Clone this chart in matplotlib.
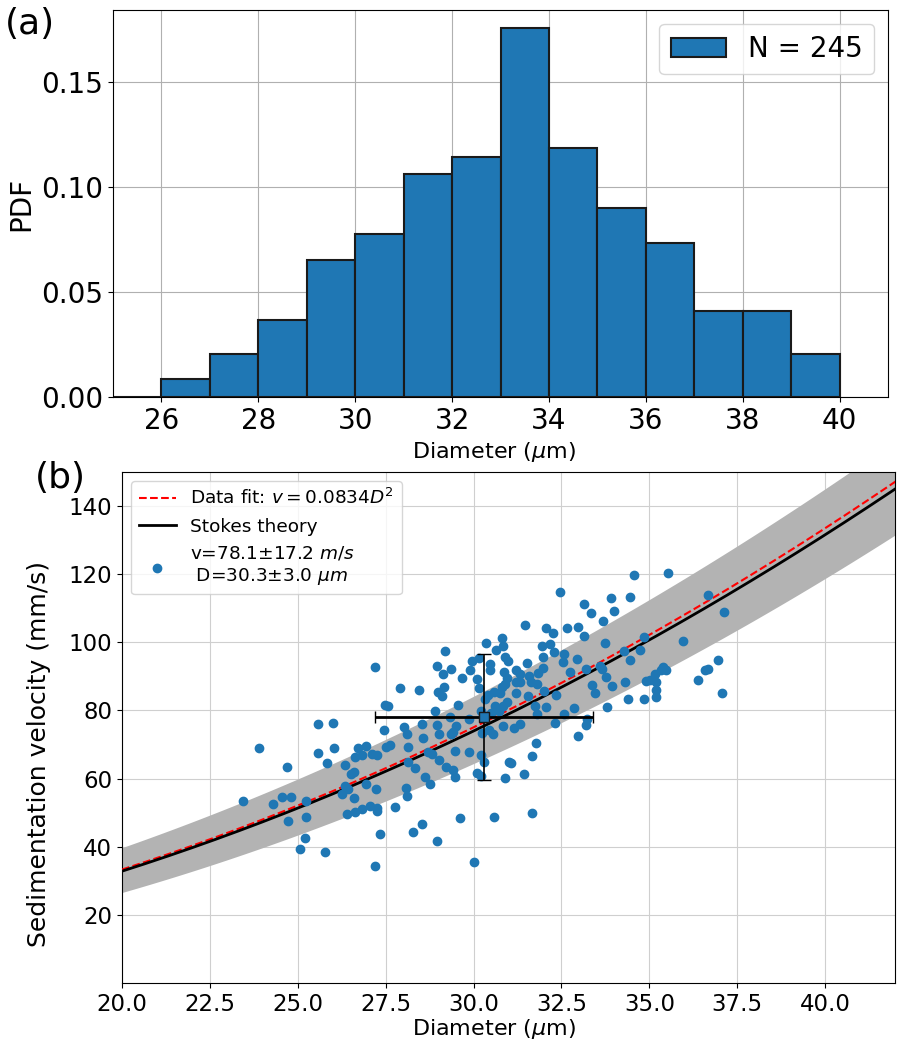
import numpy as np
import matplotlib.pyplot as plt
from matplotlib.patches import Patch

# (a) histogram, bin edges 25..40, width 1
bin_left = [25, 26, 27, 28, 29, 30, 31, 32, 33, 34, 35, 36, 37, 38, 39]
pdf = [0.0, 0.0085, 0.0205, 0.0367, 0.0653, 0.0776, 0.1061, 0.1143, 0.1755,
       0.1184, 0.0898, 0.0735, 0.0408, 0.0408, 0.0204]
n_total = 245

# (b) scatter of diameter (um) vs sedimentation velocity (mm/s)
diam = [35.52, 36.68, 37.13, 35.96, 36.96, 36.59, 36.67, 36.37, 37.07, 35.38,
        35.33, 35.47, 35.17, 35.02, 34.9, 35.19, 35.2, 35.2, 34.86, 34.86,
        34.57, 32.47, 33.91, 34.46, 33.15, 33.34, 33.98, 33.67, 32.66, 32.96,
        33.13, 33.75, 32.56, 32.54, 32.95, 34.27, 34.44, 34.74, 32.75, 33.2,
        33.6, 33.65, 33.77, 33.36, 33.44, 33.94, 34.32, 34.38, 33.8, 32.87,
        32.57, 33.23, 33.2, 32.98,
        31.45, 32.05, 32.27, 32.18, 31.96, 32.3, 30.35, 30.82, 30.83, 30.63,
        30.14, 30.9, 30.98, 30.48, 30.48, 31.51, 31.97, 31.21, 31.33, 30.86,
        31.97, 31.83, 31.57, 30.96, 30.09, 31.21, 31.31, 31.64, 31.81, 30.88,
        30.8, 30.14, 31.21, 32.0, 32.33, 31.54, 30.41, 30.58, 30.74, 30.33,
        30.6, 30.96, 30.83, 30.5, 30.71, 30.22, 31.75, 32.07, 31.81, 32.31,
        31.33, 31.16, 30.83, 30.45, 30.55, 30.24, 31.78, 30.22, 31.66, 30.29,
        31.0, 31.07, 30.1, 30.2, 31.43, 30.88, 30.57, 31.66,
        29.18, 29.96, 28.96, 29.37, 29.13, 29.91, 29.67, 27.9, 28.45, 29.16,
        28.99, 29.11, 29.55, 28.89, 29.33, 29.86, 28.02, 28.12, 28.53, 28.96,
        29.02, 29.51, 29.41, 29.35, 28.56, 28.13, 28.7, 28.82, 29.46, 29.86,
        29.02, 29.41, 29.46, 29.22, 28.13, 28.32, 28.61, 28.77, 28.09, 28.12,
        27.76, 29.6, 28.54, 28.28, 28.96, 30.02,
        27.2, 27.48, 27.57, 25.58, 26.0, 27.44, 23.89, 25.58, 26.03, 26.71,
        26.93, 26.64, 26.84, 27.12, 27.26, 27.52, 27.61, 25.84, 26.34, 24.69,
        26.52, 26.61, 26.34, 26.43, 26.26, 26.95, 27.22, 26.6, 26.84, 27.05,
        27.25, 27.26, 26.62, 26.4, 23.45, 24.3, 24.55, 24.81, 25.24, 24.72,
        25.22, 25.21, 25.05, 25.78, 27.35, 27.2]
vel = [120.2, 113.9, 108.8, 100.5, 94.7, 91.9, 92.2, 88.8, 85.2, 92.8,
       92.0, 92.0, 90.8, 89.0, 88.5, 88.4, 86.1, 83.9, 83.4, 101.5,
       119.8, 114.8, 112.9, 113.2, 111.2, 108.6, 109.2, 106.1, 104.1, 104.4,
       101.9, 99.9, 96.6, 94.3, 95.2, 97.4, 94.9, 97.6, 91.2, 92.2,
       93.1, 92.2, 89.9, 87.5, 85.1, 87.2, 88.4, 83.4, 81.0, 80.7,
       79.1, 77.5, 75.8, 72.5,
       105.1, 104.2, 102.6, 99.4, 98.8, 97.2, 99.9, 101.2, 98.9, 97.6,
       95.5, 95.7, 94.6, 93.6, 91.8, 94.0, 95.7, 92.0, 90.6, 91.2,
       92.4, 91.0, 90.0, 89.5, 89.3, 88.2, 88.2, 88.4, 87.9, 87.9,
       86.9, 86.5, 85.1, 85.6, 84.6, 84.1, 84.6, 85.3, 85.1, 83.4,
       81.4, 82.4, 81.2, 79.2, 79.9, 79.7, 81.2, 81.0, 79.0, 76.3,
       76.0, 74.8, 75.5, 74.3, 73.1, 73.5, 70.6, 67.0, 66.7, 65.0,
       65.0, 64.7, 61.6, 60.8, 61.5, 60.1, 48.8, 50.0,
       97.4, 94.4, 93.1, 92.2, 90.8, 92.0, 89.5, 86.6, 86.1, 86.8,
       85.3, 84.3, 81.7, 79.9, 78.2, 77.6, 75.1, 73.1, 76.0, 75.8,
       73.1, 75.3, 73.8, 73.1, 71.9, 69.4, 67.9, 67.2, 68.2, 67.9,
       65.5, 62.6, 60.6, 63.4, 65.0, 63.1, 60.4, 58.4, 57.2, 54.9,
       51.8, 48.6, 46.7, 44.4, 41.7, 35.6,
       92.6, 81.5, 81.3, 76.1, 76.3, 74.3, 68.9, 67.5, 69.1, 68.9,
       69.7, 66.5, 66.8, 67.2, 66.8, 69.4, 69.9, 64.5, 64.0, 63.5,
       61.4, 61.9, 57.9, 57.0, 55.4, 58.4, 57.0, 54.4, 51.1, 52.1,
       51.5, 50.6, 50.3, 49.5, 53.5, 52.5, 54.5, 54.7, 53.5, 47.6,
       48.8, 42.5, 39.5, 38.5, 43.8, 34.5]

# mean / spread marker
d_mean, d_err = 30.3, 3.1
v_mean, v_err = 78.1, 18.6

k_fit = 0.0834      # data fit v = k D^2
k_stokes = 0.0822   # Stokes theory
d_spread = 2.0      # shaded band: Stokes with D +/- d_spread

fig = plt.figure(figsize=(9.05, 10.48), dpi=100)

# ---- (a) ----
ax1 = fig.add_axes([0.1249, 0.6212, 0.8564, 0.3693])
ax1.set_axisbelow(True)
ax1.grid(True, color='#b0b0b0', lw=0.8)
ax1.bar(bin_left, pdf, width=1.0, align='edge', color='#1f77b4',
        edgecolor='#1a1a1a', linewidth=1.5)
ax1.set_xlim(25, 41)
ax1.set_xticks([26, 28, 30, 32, 34, 36, 38, 40])
ax1.set_yticks([0.0, 0.05, 0.10, 0.15])
ax1.tick_params(labelsize=20)
ax1.set_xlabel(r'Diameter ($\mu$m)', fontsize=16)
ax1.xaxis.set_label_coords(0.492, -0.11)
ax1.set_ylabel('PDF', fontsize=20)
ax1.legend(handles=[Patch(facecolor='#1f77b4', edgecolor='#1a1a1a', lw=1.5,
                          label='N = %d' % n_total)],
           loc='upper right', fontsize=20)
fig.text(0.005, 0.993, '(a)', fontsize=26, va='top', ha='left')

# ---- (b) ----
ax2 = fig.add_axes([0.1348, 0.0617, 0.8547, 0.4882])
ax2.set_axisbelow(True)
ax2.grid(True, color='#cfcfcf', lw=0.8)

dd = np.linspace(20, 42, 300)
ax2.fill_between(dd, k_stokes * (dd - d_spread) ** 2,
                 k_stokes * (dd + d_spread) ** 2, color='#b3b3b3', lw=0)
ax2.plot(dd, k_fit * dd ** 2, 'r--', lw=1.5,
         label=r'Data fit: $v=%.4fD^2$' % k_fit, zorder=3)
ax2.plot(dd, k_stokes * dd ** 2, 'k-', lw=2, label='Stokes theory', zorder=3)
ax2.scatter(diam, vel, s=36, color='#1f77b4', zorder=4,
            label='v=78.1±17.2 $m/s$\n D=30.3±3.0 $\\mu m$')
ax2.errorbar(d_mean, v_mean, xerr=d_err, fmt='none', ecolor='k',
             elinewidth=2, capsize=4, zorder=5)
ax2.errorbar(d_mean, v_mean, yerr=v_err, fmt='s', color='#1f77b4', mec='#1a1a1a',
             ms=7, ecolor='k', elinewidth=1.2, capsize=5, zorder=5)

ax2.set_xlim(20, 42)
ax2.set_ylim(0, 150)
ax2.set_xticks([20.0, 22.5, 25.0, 27.5, 30.0, 32.5, 35.0, 37.5, 40.0])
ax2.set_yticks([20, 40, 60, 80, 100, 120, 140])
ax2.tick_params(labelsize=16.5)
ax2.set_xlabel(r'Diameter ($\mu$m)', fontsize=16)
ax2.xaxis.set_label_coords(0.481, -0.065)
ax2.set_ylabel('Sedimentation velocity (mm/s)', fontsize=18)
ax2.yaxis.set_label_coords(-0.092, 0.448)
ax2.legend(loc='upper left', fontsize=13.3)
fig.text(0.038, 0.56, '(b)', fontsize=26, va='top', ha='left')

fig.savefig('out.png', dpi=100)
